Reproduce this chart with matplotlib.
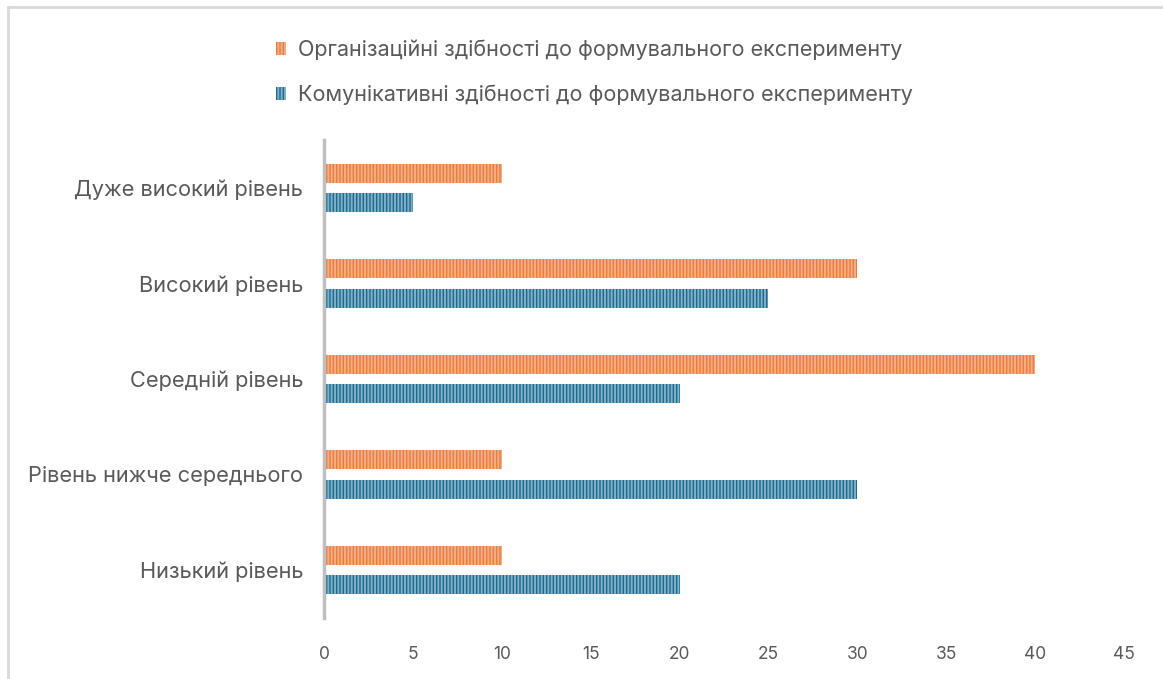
import matplotlib.pyplot as plt
import numpy as np
from matplotlib.patches import Patch
from matplotlib.lines import Line2D

plt.rcParams['font.family'] = ['Inter', 'DejaVu Sans']
plt.rcParams['hatch.linewidth'] = 1.4

categories = ["Низький рівень", "Рівень нижче середнього", "Середній рівень",
              "Високий рівень", "Дуже високий рівень"]
org_values = [10, 10, 40, 30, 10]
kom_values = [20, 30, 20, 25, 5]
org_label = "Організаційні здібності до формувального експерименту"
kom_label = "Комунікативні здібності до формувального експерименту"

org_color, org_stripe = "#EC7A3A", "#F5AE85"
kom_color, kom_stripe = "#1E6A8D", "#7FB0CA"
text_color = "#595959"

fig = plt.figure(figsize=(11.63, 6.79), dpi=100)
ax = fig.add_axes([324 / 1163, 1 - 617.75 / 679, 800 / 1163, 477.5 / 679])

y = np.arange(len(categories))
h = 0.2
ax.barh(y + 0.155, org_values, height=h, color=org_color, edgecolor=org_stripe,
        linewidth=0, hatch='|||||')
ax.barh(y - 0.155, kom_values, height=h, color=kom_color, edgecolor=kom_stripe,
        linewidth=0, hatch='|||||')

ax.set_xlim(0, 45)
ax.set_ylim(-0.5, 4.5)
ax.set_xticks(np.arange(0, 46, 5))
ax.set_yticks(y)
ax.set_yticklabels(categories)
ax.tick_params(axis='both', length=0, colors=text_color)
ax.tick_params(axis='x', pad=20, labelsize=12.5)
ax.tick_params(axis='y', pad=15, labelsize=15.7)

for side in ['top', 'right', 'bottom']:
    ax.spines[side].set_visible(False)
ax.spines['left'].set_color('#BFBFBF')
ax.spines['left'].set_linewidth(2.5)

handles = [Patch(facecolor=org_color, edgecolor=org_stripe, linewidth=0, hatch='|||||'),
           Patch(facecolor=kom_color, edgecolor=kom_stripe, linewidth=0, hatch='|||||')]
leg = fig.legend(handles, [org_label, kom_label], loc='upper center',
                 bbox_to_anchor=(0.511, 0.97), frameon=False, fontsize=15.5,
                 labelspacing=1.15, handlelength=0.5, handleheight=0.55,
                 handletextpad=0.55)
for t in leg.get_texts():
    t.set_color(text_color)

# outer chart border (top and left edges visible)
fig.add_artist(Line2D([8 / 1163, 8 / 1163], [0, 1 - 7 / 679],
                      transform=fig.transFigure, color='#D9D9D9', linewidth=2))
fig.add_artist(Line2D([8 / 1163, 1], [1 - 7 / 679, 1 - 7 / 679],
                      transform=fig.transFigure, color='#D9D9D9', linewidth=2))

fig.savefig("out.png", dpi=100)
